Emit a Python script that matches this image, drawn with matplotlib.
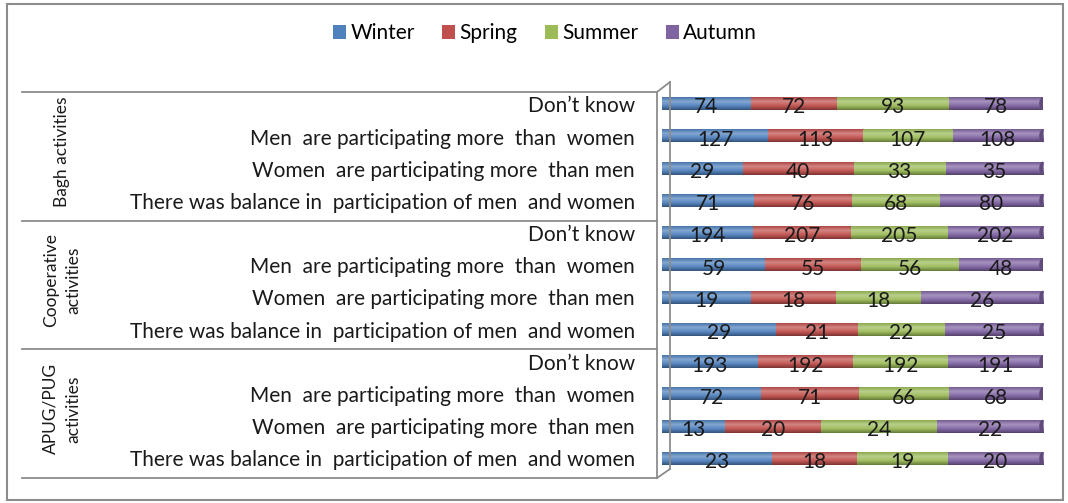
import numpy as np
import matplotlib.pyplot as plt
from matplotlib.colors import LinearSegmentedColormap, to_rgb
from matplotlib.patches import Patch, Ellipse, Rectangle
from matplotlib.lines import Line2D

plt.rcParams["font.family"] = ["Lato", "DejaVu Sans"]

W, H = 1068, 503

seasons = ["Winter", "Spring", "Summer", "Autumn"]
colors = ["#4F81BD", "#C0504D", "#9BBB59", "#8064A2"]

groups = ["Bagh activities", "Cooperative\nactivities", "APUG/PUG\nactivities"]
answers = [
    "Don\u2019t know",
    "Men  are participating more  than  women",
    "Women  are participating more  than men",
    "There was balance in  participation of men  and women",
]

winter = [74, 127, 29, 71, 194, 59, 19, 29, 193, 72, 13, 23]
spring = [72, 113, 40, 76, 207, 55, 18, 21, 192, 71, 20, 18]
summer = [93, 107, 33, 68, 205, 56, 18, 22, 192, 66, 24, 19]
autumn = [78, 108, 35, 80, 202, 48, 26, 25, 191, 68, 22, 20]


def fx(px):
    return px / W


def fy(py):
    return 1 - py / H


def shade(c, k):
    r = np.array(to_rgb(c))
    if k >= 0:
        return tuple(r + (1 - r) * k)
    return tuple(r * (1 + k))


def cyl_cmap(c):
    return LinearSegmentedColormap.from_list(
        "cyl", [shade(c, -0.1), shade(c, 0.3), shade(c, 0.05), shade(c, -0.35)]
    )


def main():
    data = np.array([winter, spring, summer, autumn], dtype=float)
    pct = data / data.sum(axis=0) * 100
    n = data.shape[1]
    rows = np.arange(n) + 0.5
    h = 0.4

    fig = plt.figure(figsize=(W / 100, H / 100), dpi=100)

    # outer border
    fig.add_artist(Rectangle((fx(7), fy(500)), fx(1063 - 7), fy(4) - fy(500),
                             transform=fig.transFigure, fill=False,
                             edgecolor="#8c8c8c", lw=1.5))

    # label area
    lab = fig.add_axes([fx(22), fy(478), fx(657 - 22), fy(92) - fy(478)])
    lab.set_xlim(0, 1)
    lab.set_ylim(n, 0)
    lab.axis("off")
    for i in range(n):
        lab.text(0.965, i + 0.45, answers[i % 4], ha="right", va="center",
                 fontsize=15, color="#1a1a1a")
    for g in range(len(groups) + 1):
        lab.axhline(g * 4, color="#8c8c8c", lw=1.3, clip_on=False)
    for g, name in enumerate(groups):
        lab.text(0.063, g * 4 + 1.85, name, rotation=90, ha="center",
                 va="center", fontsize=12.5, color="#1a1a1a",
                 multialignment="center", linespacing=1.5)

    # 3D wall
    wall = [((657, 92), (657, 478)), ((670, 82), (670, 469)),
            ((657, 92), (670, 82)), ((657, 478), (670, 469))]
    for (x0, y0), (x1, y1) in wall:
        fig.add_artist(Line2D([fx(x0), fx(x1)], [fy(y0), fy(y1)],
                              transform=fig.transFigure, color="#8c8c8c", lw=1.3))

    # bars
    ax = fig.add_axes([fx(662), fy(474.6), fx(381), fy(87.4) - fy(474.6)])
    grad = np.linspace(0, 1, 64).reshape(-1, 1)
    left = np.zeros(n)
    for s in range(4):
        cmap = cyl_cmap(colors[s])
        bars = ax.barh(rows, pct[s], left=left, height=h, color=colors[s], lw=0)
        for b, y, x0, w, v in zip(bars, rows, left, pct[s], data[s]):
            im = ax.imshow(grad, cmap=cmap, aspect="auto", origin="upper",
                           extent=(x0, x0 + w, y + h / 2, y - h / 2), zorder=2)
            im.set_clip_path(b)
            ax.text(x0 + w / 2, y + 0.12, f"{int(v)}", ha="center", va="center",
                    fontsize=15, color="#1a1a1a", zorder=4)
        left = left + pct[s]
    for y in rows:
        ax.add_patch(Ellipse((100, y), 2.0, h, facecolor=shade(colors[3], -0.25),
                             edgecolor="none", zorder=3))
    ax.set_xlim(0, 100)
    ax.set_ylim(n, 0)
    ax.axis("off")

    handles = [Patch(facecolor=c, label=s) for s, c in zip(seasons, colors)]
    fig.legend(handles=handles, loc="center", bbox_to_anchor=(fx(545), fy(33)),
               ncol=4, frameon=False, handlelength=0.65, handleheight=0.65,
               handletextpad=0.2, columnspacing=1.3, fontsize=15)

    fig.savefig("out.png", dpi=100)


if __name__ == "__main__":
    main()
